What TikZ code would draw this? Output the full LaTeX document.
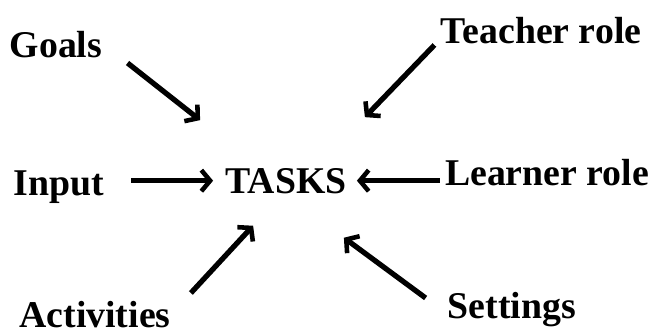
\documentclass[tikz,border=0pt]{standalone}
\usepackage{fontspec}
\setmainfont{Liberation Serif}
\usepackage{tikz}
\usetikzlibrary{arrows.meta,positioning,calc}

\begin{document}
\begin{tikzpicture}[
    lbl/.style={inner sep=0pt, anchor=base, font=\fontsize{21.5}{26}\selectfont\bfseries},
    arr/.style={line width=3pt, -{Straight Barb[length=5pt,width=12pt,line width=2.6pt]}}
]
\useasboundingbox (0,0) rectangle (13,6.66);

% Centre
\node[lbl] (tasks) at (5.72,2.80) {TASKS};

% Surrounding factors
\node[lbl] (goals) at (1.12,5.52) {Goals};
\node[lbl] (teacher) at (10.82,5.80) {Teacher role};
\node[lbl] (input) at (1.17,2.76) {Input};
\node[lbl] (learner) at (10.94,2.96) {Learner role};
\node[lbl] (activities) at (1.9,0.12) {Activities};
\node[lbl] (settings) at (10.24,0.30) {Settings};

% Arrows into the centre
\draw[arr] ([shift={(0.5,-0.12)}]goals.base east) -- ([shift={(-0.5,0.95)}]tasks.north west);
\draw[arr] ([shift={(-0.12,-0.04)}]teacher.base west) -- ([shift={(0.36,1.01)}]tasks.north east);
\draw[arr, shorten <=0.54cm, shorten >=0.24cm] (input.east |- tasks.west) -- (tasks.west);
\draw[arr, shorten <=0.1cm, shorten >=0.2cm] (learner.west |- tasks.east) -- (tasks.east);
\draw[arr] ([shift={(0.4,0.68)}]activities.base east) -- ([shift={(0.56,-0.64)}]tasks.south west);
\draw[arr] ([shift={(-0.44,0.40)}]settings.base west) -- ([shift={(-0.06,-0.88)}]tasks.south east);

\end{tikzpicture}
\end{document}
